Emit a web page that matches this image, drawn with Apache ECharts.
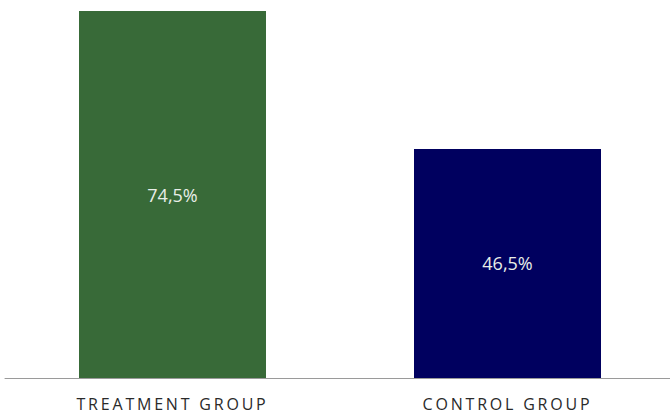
<!DOCTYPE html>
<html>
<head>
<meta charset="utf-8">
<script src="https://cdn.jsdelivr.net/npm/echarts@6/dist/echarts.min.js"></script>
<style>
  html, body { margin: 0; padding: 0; background: #fff; overflow: hidden; }
  #chart { width: 675px; height: 414px; }
  #chart text.axislab { letter-spacing: 2.8px; }
</style>
</head>
<body>
<div id="chart"></div>
<script>
const categories = ['TREATMENT GROUP', 'CONTROL GROUP'];
const values = [74.5, 46.5];
const barColors = ['#386a38', '#00005f'];

const chart = echarts.init(document.getElementById('chart'), null, { renderer: 'svg' });
chart.setOption({
  animation: false,
  grid: { left: 5, right: 0, top: 11, bottom: 36 },
  xAxis: {
    type: 'category',
    data: categories,
    axisLine: { lineStyle: { color: '#9a9a9a', width: 1 } },
    axisTick: { show: false },
    axisLabel: {
      color: '#2a2a2a',
      fontFamily: 'Open Sans',
      fontSize: 16,
      margin: 18
    }
  },
  yAxis: {
    type: 'value',
    min: 0,
    max: 74.5,
    show: false,
    splitLine: { show: false }
  },
  series: [{
    type: 'bar',
    barWidth: 187,
    data: values.map((v, i) => ({ value: v, itemStyle: { color: barColors[i] } })),
    label: {
      show: true,
      position: 'inside',
      color: '#e8eee8',
      fontFamily: 'Open Sans',
      fontSize: 18,
      formatter: p => p.value.toFixed(1).replace('.', ',') + '%'
    }
  }]
});
document.querySelectorAll('#chart text').forEach(t => {
  if (categories.includes(t.textContent)) t.classList.add('axislab');
});
</script>
</body>
</html>
